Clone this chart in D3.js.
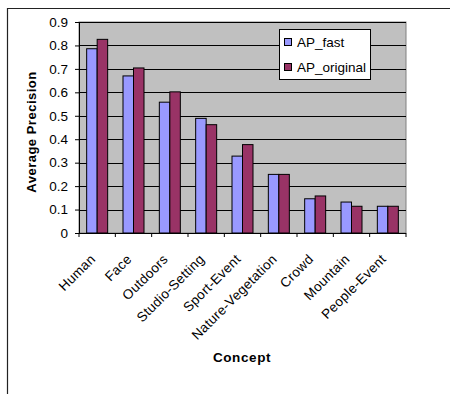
<!DOCTYPE html>
<html><head><meta charset="utf-8">
<script src="https://cdn.jsdelivr.net/npm/d3@7"></script>
<style>body{margin:0;background:#fff}svg{display:block;font-family:Arial,"Liberation Sans",sans-serif}</style>
</head><body><div id="c"></div>
<script>
const categories = ["Human","Face","Outdoors","Studio-Setting","Sport-Event","Nature-Vegetation","Crowd","Mountain","People-Event"];
const apFast = [0.786,0.670,0.558,0.489,0.328,0.250,0.146,0.132,0.114];
const apOriginal = [0.826,0.704,0.602,0.462,0.377,0.250,0.158,0.114,0.114];
const seriesNames = ["AP_fast","AP_original"];
const seriesColors = ["#9999FF","#993366"];
const yTicks = [0,0.1,0.2,0.3,0.4,0.5,0.6,0.7,0.8,0.9];

const W=450,H=394;
const m={l:79,t:22,r:406,b:233};
const FS=13.5;
const svg=d3.select("#c").append("svg").attr("width",W).attr("height",H);
// outer frame
svg.append("path").attr("d",`M7.5,${H} V8.5 H${W}`).attr("fill","none").attr("stroke","#222").attr("stroke-width",1.2);

const x=d3.scaleBand().domain(categories).range([m.l,m.r]);
const y=d3.scaleLinear().domain([0,0.9]).range([m.b,m.t]);
const barW=10.5;
const xs=d3.scaleBand().domain(seriesNames).range([0,barW*2]);

svg.append("rect").attr("x",m.l).attr("y",m.t).attr("width",m.r-m.l).attr("height",m.b-m.t).attr("fill","#C0C0C0").attr("stroke","#808080");
svg.append("g").selectAll("line").data(yTicks.slice(1)).join("line")
 .attr("x1",m.l).attr("x2",m.r).attr("y1",d=>Math.round(y(d))+0.5).attr("y2",d=>Math.round(y(d))+0.5).attr("stroke","#000").attr("stroke-width",1);

const data=[apFast,apOriginal];
data.forEach((vals,si)=>{
 svg.append("g").selectAll("rect").data(vals).join("rect")
  .attr("x",(d,i)=>x(categories[i])+x.bandwidth()/2-barW+xs(seriesNames[si]))
  .attr("y",d=>y(d)).attr("width",xs.bandwidth()).attr("height",d=>y(0)-y(d))
  .attr("fill",seriesColors[si]).attr("stroke","#000").attr("stroke-width",1);
});

const ya=d3.axisLeft(y).tickValues(yTicks).tickFormat(d=>d===0?"0":d3.format(".1f")(d)).tickSize(4).tickPadding(7);
const gy=svg.append("g").attr("transform",`translate(${m.l},0)`).call(ya);
gy.select(".domain").attr("stroke","#000");
gy.selectAll("text").attr("font-size",FS).attr("fill","#000").attr("font-family","Arial,'Liberation Sans',sans-serif");

const xa=d3.axisBottom(x).tickSize(0).tickFormat("");
const gx=svg.append("g").attr("transform",`translate(0,${m.b})`).call(xa);
gx.select(".domain").attr("stroke","#000").attr("d",`M${m.l},0.5H${m.r}`);
// boundary ticks
svg.append("g").selectAll("line").data(d3.range(categories.length+1)).join("line")
 .attr("x1",i=>m.l+i*x.step()).attr("x2",i=>m.l+i*x.step()).attr("y1",m.b).attr("y2",m.b+4).attr("stroke","#000");
svg.append("g").selectAll("text").data(categories).join("text")
 .attr("transform",d=>`translate(${x(d)+x.bandwidth()/2-1},${m.b+27}) rotate(-45)`)
 .attr("text-anchor","end").attr("font-size",FS).attr("letter-spacing",0.3).text(d=>d);

svg.append("text").attr("transform",`translate(35.5,132) rotate(-90)`).attr("text-anchor","middle")
 .attr("font-size",13).attr("letter-spacing",0.5).attr("font-weight","bold").text("Average Precision");
svg.append("text").attr("x",242).attr("y",362).attr("text-anchor","middle").attr("font-size",13.5).attr("letter-spacing",0.6).attr("font-weight","bold").text("Concept");

// legend
const lg=svg.append("g");
lg.append("rect").attr("x",279.5).attr("y",29.5).attr("width",91).attr("height",50).attr("fill","#fff").attr("stroke","#000");
seriesNames.forEach((s,i)=>{
 lg.append("rect").attr("x",284.5).attr("y",38.5+i*25).attr("width",7).attr("height",7).attr("fill",seriesColors[i]).attr("stroke","#000");
 lg.append("text").attr("x",297).attr("y",47+i*25).attr("font-size",FS).text(s);
});
</script></body></html>
